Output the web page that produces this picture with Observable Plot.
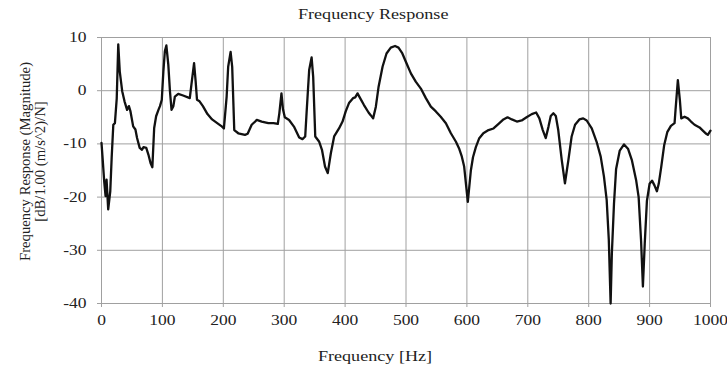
<!DOCTYPE html>
<html>
<head>
<meta charset="utf-8">
<script src="https://cdn.jsdelivr.net/npm/d3@7"></script>
<script src="https://cdn.jsdelivr.net/npm/@observablehq/plot@0.6"></script>
<style>
  html, body { margin: 0; padding: 0; background: #fff; }
  #title { width: 727px; height: 27px; line-height: 29px; box-sizing: border-box; padding-left: 20px;
           text-align: center; font-family: "Liberation Serif", serif; font-size: 14.5px; color: #222; }
  #title span { display: inline-block; transform: scaleX(1.25); }
  svg { display: block; }
</style>
</head>
<body>
<div id="title"><span>Frequency Response</span></div>
<div id="chart"></div>
<script>
const freqHz = [0,2,4.4,6.7,8.3,11,14.4,16.7,19.4,22,25,27.5,30,34,37.8,42,45,47.6,52,55.7,58.4,62.7,66.5,69,73.5,77,80.5,83.5,86.5,89.7,93.5,96,99,101.6,104,106.5,109.7,112.4,115,118,120.5,126,134,145,147.6,152,154.6,156.8,161,166.5,174,181.6,190,198,201,205.5,208,212,214.6,218,224.6,235.6,240,246.6,255,263,274,282.5,289.5,292,295.5,298,301,308,316,324.6,330,334.5,336.7,341,345,347.6,351,357.5,362,367,371.5,376.6,382,390,395.8,401,406.7,413,416.6,420.4,424,431,438.5,442,446,450.5,455,461.5,468,475,482,487.7,494,501,508,516,524.4,532.6,540.8,549,557,565.5,573.7,582,587,591.7,595.5,601.5,606.5,610,614.7,620,627,635.5,643.7,652,660,666.7,673.8,682,690,698,706.5,713.7,719,724.6,729.5,734,737.7,742,746,750,755.7,761,766.7,772,777.6,784.7,791,796.7,805,813,819.7,825,829.5,833,836,838,841.5,845,851,858,864.5,871,878,882,886,889,892,895.6,900,904,908,912,915,919,924,929,935,941,942.6,946.4,949.7,952,957.4,962.8,968,973.8,982,987.4,993,995.6,1000];
const magDb = [-9.8,-13,-17,-19.8,-16.7,-22.3,-18.9,-12.6,-6.4,-6.1,-1.5,8.7,3.6,-0.1,-2,-3.6,-2.9,-3.9,-6.7,-7.3,-8.9,-10.75,-11.1,-10.6,-10.75,-12,-13.6,-14.4,-7,-4.8,-3.6,-2.9,-1.7,3.6,7.4,8.5,4.9,-0.1,-3.6,-2.9,-1.1,-0.6,-0.9,-1.4,1.1,5.2,1.75,-1.7,-2,-2.9,-4.4,-5.4,-6.1,-6.75,-7.1,-1.1,4.5,7.3,4.5,-7.4,-8,-8.3,-8.1,-6.4,-5.5,-5.8,-6.1,-6.1,-6.25,-4.25,-0.5,-3.5,-5,-5.5,-6.75,-8.8,-9.1,-8.6,-4.25,3.9,6.25,2.6,-8.6,-9.6,-11.1,-14.25,-15.5,-11.75,-8.6,-7.1,-5.8,-3.9,-2.25,-1.4,-1.25,-0.5,-1.25,-2.7,-4.1,-4.6,-5.2,-3,0.75,4.5,7,8.1,8.4,8.1,7,5.1,3.25,1.7,0.4,-1.4,-3,-3.9,-4.9,-6.1,-8,-9.6,-10.8,-12.4,-14.25,-20.9,-15,-12.5,-10.6,-9,-8,-7.4,-7.1,-6.25,-5.4,-5,-5.4,-5.8,-5.6,-5,-4.4,-4.1,-5.2,-7.4,-8.9,-6.75,-4.75,-4.25,-4.75,-7.4,-13,-17.4,-13,-8.6,-6.4,-5.4,-5.2,-5.6,-7.1,-9.6,-12.4,-16.1,-20.5,-28,-40,-30.7,-21.3,-14.7,-11.25,-10.1,-10.9,-13.1,-16.9,-20,-28.2,-36.8,-28.8,-20.7,-17.5,-16.9,-17.8,-18.9,-17.5,-14.4,-10.2,-7.8,-6.6,-6.1,-3.6,2,-1.75,-5.2,-4.9,-5.2,-5.8,-6.4,-6.9,-7.5,-8.1,-8.3,-7.5];
const xTicks = [0,100,200,300,400,500,600,700,800,900,1000];
const yTicks = [-40,-30,-20,-10,0,10];
const xLabel = "Frequency [Hz]";
const yLabel = "Frequency Response (Magnitude)\n[dB/1.00 (m/s^2)/N]";

const data = freqHz.map((f, i) => ({f, m: magDb[i]}));
const grid = "#a0a0a0";
const serif = "'Liberation Serif', 'Times New Roman', serif";
const fmt = d => String(d);

const chart = Plot.plot({
  width: 727,
  height: 342,
  marginTop: 10,
  marginBottom: 66,
  marginLeft: 101,
  marginRight: 17,
  style: {fontFamily: serif, fontSize: "14px", color: "#222", background: "#fff"},
  x: {domain: [0, 1000]},
  y: {domain: [-40, 10]},
  marks: [
    Plot.gridX(xTicks, {stroke: grid, strokeOpacity: 1, strokeWidth: 1}),
    Plot.gridY(yTicks, {stroke: grid, strokeOpacity: 1, strokeWidth: 1}),
    Plot.axisX(xTicks, {tickSize: 4, tickPadding: 8, stroke: grid, label: null, tickFormat: fmt, fontFamily: serif, fontSize: 14, fill: "#222"}),
    Plot.axisY(yTicks, {tickSize: 4, tickPadding: 11, stroke: grid, label: null, tickFormat: fmt, fontFamily: serif, fontSize: 14, fill: "#222"}),
    Plot.line(data, {x: "f", y: "m", stroke: "#111", strokeWidth: 2.3, strokeLinejoin: "round"}),
    Plot.text([xLabel], {frameAnchor: "bottom", textAnchor: "middle", lineAnchor: "middle", dx: -31, dy: 53, fontFamily: serif, fontSize: 14.5, fill: "#222"}),
    Plot.text([yLabel], {frameAnchor: "left", textAnchor: "middle", lineAnchor: "middle", rotate: -90, dx: -68.5, dy: -9, lineHeight: 1.0, fontFamily: serif, fontSize: 14.7, fill: "#222"})
  ]
});
document.getElementById("chart").appendChild(chart);

// the reference's horizontal lettering is wider than Liberation Serif; widen the horizontal texts only
chart.querySelectorAll("text").forEach(t => {
  let tr = t.getAttribute("transform");
  if (tr && /rotate/.test(tr)) return;
  if (!tr) {
    const x = t.getAttribute("x") || 0, y = t.getAttribute("y") || 0;
    t.removeAttribute("x"); t.removeAttribute("y");
    tr = `translate(${x},${y})`;
  }
  t.setAttribute("transform", tr + " scale(1.25,1)");
});
</script>
</body>
</html>
